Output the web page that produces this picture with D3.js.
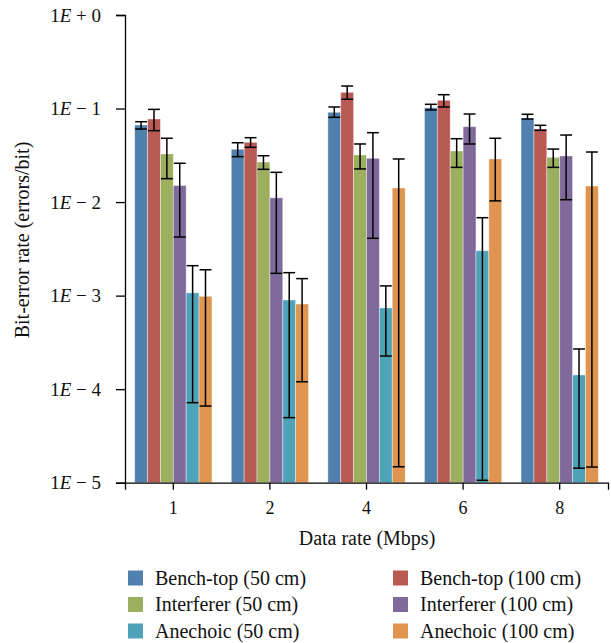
<!DOCTYPE html>
<html>
<head>
<meta charset="utf-8">
<script src="https://cdn.jsdelivr.net/npm/d3@7/dist/d3.min.js"></script>
<style>
    body { margin: 0; background: #fff; }
    svg text { font-family: "Liberation Serif", "DejaVu Serif", serif; }
    .axis path, .axis line { stroke: #000; stroke-width: 1.3; }
</style>
</head>
<body>
<div id="chart"></div>
<script>
(function () {
    'use strict';

    var rates = ['1', '2', '4', '6', '8'];
    var series = ['Bench-top (50 cm)', 'Bench-top (100 cm)', 'Interferer (50 cm)',
        'Interferer (100 cm)', 'Anechoic (50 cm)', 'Anechoic (100 cm)'];
    var colors = ['#5081ae', '#b95a55', '#9baf5f', '#806a9b', '#4fa3b9', '#df9450'];

    // mean bit-error rate, one row per series, one value per data rate
    var values = [
        [0.0667, 0.0367, 0.0912, 0.102, 0.0787],
        [0.0773, 0.0436, 0.149, 0.1225, 0.0604],
        [0.0327, 0.0268, 0.0319, 0.0352, 0.0301],
        [0.0150, 0.0111, 0.0294, 0.0640, 0.0311],
        [0.00107, 0.000898, 0.000738, 0.00302, 0.000142],
        [0.000984, 0.000813, 0.01415, 0.0289, 0.01486]
    ];
    var upper = [
        [0.0723, 0.0431, 0.1039, 0.111, 0.0868],
        [0.098, 0.0488, 0.174, 0.1406, 0.0662],
        [0.0481, 0.0313, 0.0418, 0.0476, 0.0369],
        [0.0260, 0.0208, 0.0552, 0.0874, 0.0521],
        [0.00209, 0.00176, 0.00127, 0.00681, 0.000269],
        [0.00189, 0.00152, 0.0289, 0.0481, 0.0343]
    ];
    var lower = [
        [0.0604, 0.0306, 0.0806, 0.0965, 0.0773],
        [0.058, 0.0385, 0.1256, 0.1039, 0.0585],
        [0.0178, 0.0224, 0.0226, 0.0235, 0.0235],
        [0.00423, 0.00173, 0.0041, 0.0418, 0.0106],
        [0.0000717, 0.0000496, 0.000226, 0.0000106, 0.0000143],
        [0.000066, 0.000120, 0.0000148, 0.0103, 0.0000147]
    ];
    var yTicks = [0, -1, -2, -3, -4, -5];

    var width = 611, height = 643;
    var plot = { left: 125, right: 608, top: 15, bottom: 482.7 };

    var svg = d3.select('#chart')
        .append('svg')
        .attr('width', width)
        .attr('height', height);

    var x0 = d3.scaleBand()
        .domain(rates)
        .range([plot.left, plot.right])
        .paddingInner(0.2)
        .paddingOuter(0.1);

    var x1 = d3.scaleBand()
        .domain(d3.range(series.length))
        .range([0, x0.bandwidth()]);

    var y = d3.scaleLog()
        .domain([1e-5, 1])
        .range([plot.bottom, plot.top]);

    var rows = [];
    rates.forEach(function (r, i) {
        series.forEach(function (s, j) {
            rows.push({ rate: r, s: j, v: values[j][i], lo: lower[j][i], hi: upper[j][i] });
        });
    });

    // bars
    svg.append('g')
        .selectAll('rect')
        .data(rows)
        .enter().append('rect')
        .attr('x', function (d) { return x0(d.rate) + x1(d.s); })
        .attr('y', function (d) { return y(d.v); })
        .attr('width', x1.bandwidth())
        .attr('height', function (d) { return y(1e-5) - y(d.v); })
        .attr('fill', function (d) { return colors[d.s]; })
        .attr('stroke', '#fff')
        .attr('stroke-opacity', 0.5)
        .attr('stroke-width', 0.8);

    // error bars
    var err = svg.append('g')
        .attr('stroke', '#000')
        .attr('stroke-width', 1.5)
        .selectAll('g')
        .data(rows)
        .enter().append('g');

    err.append('line')
        .attr('x1', function (d) { return x0(d.rate) + x1(d.s) + x1.bandwidth() / 2; })
        .attr('x2', function (d) { return x0(d.rate) + x1(d.s) + x1.bandwidth() / 2; })
        .attr('y1', function (d) { return y(d.hi); })
        .attr('y2', function (d) { return y(d.lo); });

    ['hi', 'lo'].forEach(function (k) {
        err.append('line')
            .attr('x1', function (d) { return x0(d.rate) + x1(d.s) + 0.5; })
            .attr('x2', function (d) { return x0(d.rate) + x1(d.s) + x1.bandwidth() - 0.5; })
            .attr('y1', function (d) { return y(d[k]); })
            .attr('y2', function (d) { return y(d[k]); });
    });

    // y axis
    var yAxis = svg.append('g')
        .attr('class', 'axis')
        .attr('transform', 'translate(' + plot.left + ',0)')
        .call(d3.axisLeft(y)
            .tickValues(yTicks.map(function (e) { return Math.pow(10, e); }))
            .tickSize(9)
            .tickPadding(15));

    yAxis.selectAll('text')
        .attr('font-size', 19)
        .attr('fill', '#111')
        .each(function (d) {
            var e = Math.round(Math.log10(d));
            var t = d3.select(this).text('');
            t.append('tspan').text('1');
            t.append('tspan').attr('font-style', 'italic').text('E');
            t.append('tspan').text(e < 0 ? ' \u2212 ' + (-e) : ' + ' + e);
        });

    // x axis
    var xAxis = svg.append('g')
        .attr('class', 'axis')
        .attr('transform', 'translate(0,' + plot.bottom + ')')
        .call(d3.axisBottom(x0).tickSize(7).tickPadding(12));

    xAxis.selectAll('text')
        .attr('font-size', 18)
        .attr('fill', '#111');

    svg.append('text')
        .attr('transform', 'translate(29,' + 240 + ') rotate(-90)')
        .attr('text-anchor', 'middle')
        .attr('font-size', 20)
        .attr('fill', '#111')
        .text('Bit-error rate (errors/bit)');

    svg.append('text')
        .attr('x', 367)
        .attr('y', 545)
        .attr('text-anchor', 'middle')
        .attr('font-size', 20)
        .attr('fill', '#111')
        .text('Data rate (Mbps)');

    // legend
    var legend = svg.append('g')
        .selectAll('g')
        .data(series)
        .enter().append('g')
        .attr('transform', function (d, i) {
            return 'translate(' + (i % 2 === 0 ? 128 : 393) + ',' + (578 + Math.floor(i / 2) * 26.5) + ')';
        });

    legend.append('rect')
        .attr('x', 0)
        .attr('y', -7.5)
        .attr('width', 15)
        .attr('height', 15)
        .attr('fill', function (d, i) { return colors[i]; });

    legend.append('text')
        .attr('x', 27)
        .attr('y', 6.5)
        .attr('font-size', 20)
        .attr('fill', '#111')
        .text(function (d) { return d; });
})();
</script>
</body>
</html>
